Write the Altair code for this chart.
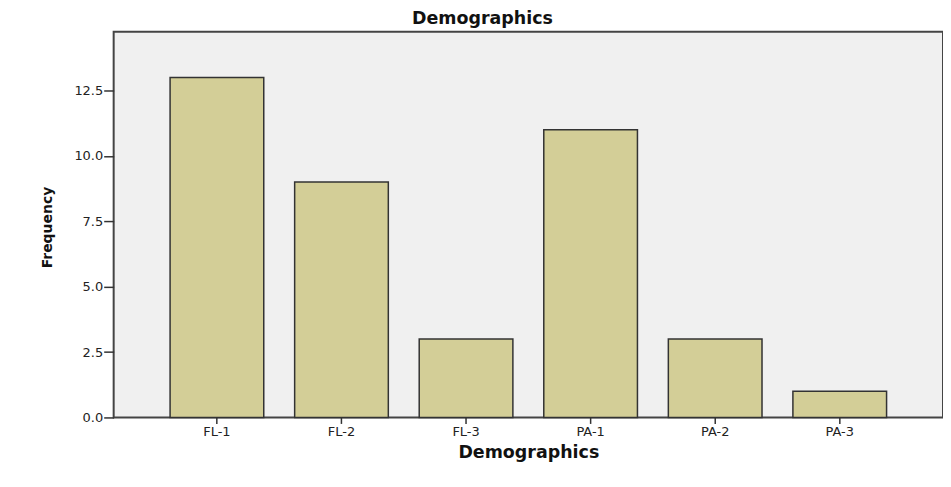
import altair as alt
import pandas as pd

categories = ["FL-1", "FL-2", "FL-3", "PA-1", "PA-2", "PA-3"]
frequencies = [13, 9, 3, 11, 3, 1]
y_ticks = [0, 2.5, 5, 7.5, 10, 12.5]

df = pd.DataFrame({"Demographics": categories, "Frequency": frequencies})

chart = alt.Chart(df).mark_bar(
    color="#D3CE97", stroke="#333333", strokeWidth=1.5
).encode(
    x=alt.X(
        "Demographics:N",
        sort=categories,
        scale=alt.Scale(paddingInner=0.248, paddingOuter=0.453),
        axis=alt.Axis(
            title="Demographics", labelAngle=0, labelFontSize=13,
            labelFont="DejaVu Sans", labelColor="#222222",
            titleFont="DejaVu Sans", titleFontSize=17.5, titleFontWeight="bold",
            titleColor="#111111", tickSize=6, tickColor="#333333", tickWidth=1.5,
            domain=False, labelPadding=2, titlePadding=5,
        ),
    ),
    y=alt.Y(
        "Frequency:Q",
        scale=alt.Scale(domain=[0, 14.75], nice=False),
        axis=alt.Axis(
            title="Frequency", values=y_ticks, format=".1f", grid=False,
            labelFontSize=13, labelFont="DejaVu Sans", labelColor="#222222",
            titleFont="DejaVu Sans", titleFontSize=14, titleFontWeight="bold",
            titleColor="#111111", tickSize=10, tickColor="#333333", tickWidth=1.5,
            domain=False, labelPadding=1,
            titleX=-66, titleY=196, titleBaseline="middle", titleAlign="center",
        ),
    ),
).properties(
    width=832,
    height=387,
    title=alt.TitleParams(
        "Demographics", font="DejaVu Sans", fontSize=17.5, fontWeight="bold",
        color="#111111", anchor="middle", offset=4, dx=-46,
    ),
    autosize=alt.AutoSizeParams(type="none"),
    padding={"left": 106, "top": 23, "right": 0, "bottom": 60},
).configure(
    background="white",
    view=alt.ViewConfig(fill="#F0F0F0", stroke="#444444", strokeWidth=2),
)

chart.save("out.html", embed_options={"renderer": "svg", "actions": False})
